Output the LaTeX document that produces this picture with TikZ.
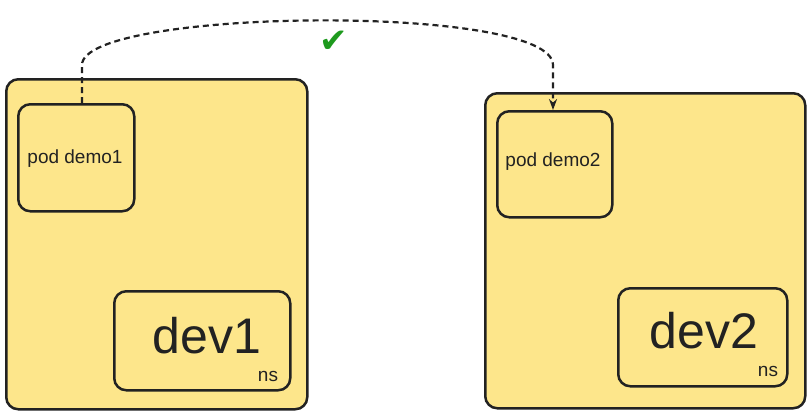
\documentclass[tikz,border=0pt]{standalone}
\usepackage{fontspec}
\setmainfont{Liberation Sans}
\newfontfamily\dejavu{DejaVu Sans}
\usetikzlibrary{arrows.meta}
\definecolor{ylw}{HTML}{FDE68B}
\definecolor{ink}{HTML}{222222}
\definecolor{okgreen}{HTML}{1E9A1E}
\begin{document}
\begin{tikzpicture}[x=1pt,y=-1pt,
  box/.style={draw=ink,line width=2.5pt,fill=ylw,rounded corners=12pt},
  lbl/.style={font=\fontsize{19}{22}\selectfont,text=ink},
  big/.style={font=\fontsize{50}{54}\selectfont,text=ink}]
\useasboundingbox (0,0) rectangle (810,413);
\node[box,minimum width=301pt,minimum height=330pt,anchor=north west] (ns1) at (5,78) {};
\node[box,minimum width=116pt,minimum height=107pt,anchor=north west] (p1) at (17,103) {};
\node[lbl] (t1) at (75,159) {pod demo1};
\node[box,minimum width=176pt,minimum height=99pt,anchor=north west] (d1) at (113,290) {};
\node[big] (dl1) at (207,336) {dev1};
\node[lbl] (n1) at (268,376) {ns};
\node[box,minimum width=320pt,minimum height=315pt,anchor=north west] (ns2) at (484,92) {};
\node[box,minimum width=115pt,minimum height=106pt,anchor=north west] (p2) at (496,110) {};
\node[lbl] (t2) at (553,162) {pod demo2};
\node[box,minimum width=169pt,minimum height=98pt,anchor=north west] (d2) at (617,287) {};
\node[big] (dl2) at (704,331) {dev2};
\node[lbl] (n2) at (768,371) {ns};
\coordinate (a) at (82,103);
\coordinate (b) at (553,110);
\draw[ink,line width=2.2pt,dash pattern=on 6pt off 4pt,-{Stealth[length=11pt,width=8pt]}]
  (a) -- (82,65) .. controls (82,8) and (553,3) .. (553,65) -- (b);
\node[font=\dejavu\fontsize{34}{36}\selectfont,text=okgreen] (ck) at (334,42) {✔};
\end{tikzpicture}
\end{document}
